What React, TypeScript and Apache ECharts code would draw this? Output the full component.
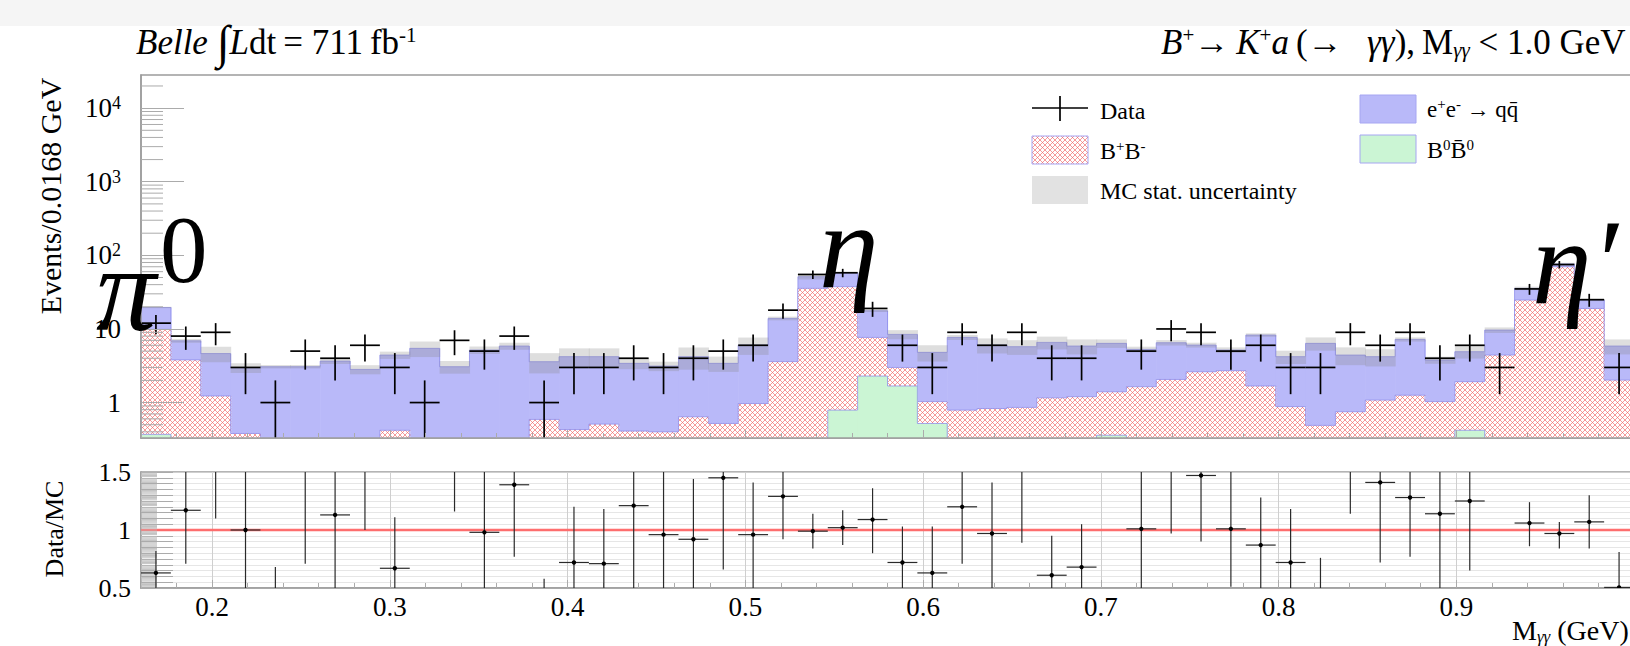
import React, { useEffect, useRef } from 'react';
import * as echarts from 'echarts';

// ---------------- axis ranges ----------------
const X_MIN = 0.16;
const X_MAX = 1.0;
const BIN_WIDTH = 0.0168;
const Y_MIN = 0.33;
const Y_MAX = 28200;
const RATIO_MIN = 0.5;
const RATIO_MAX = 1.5;

// ---------------- data (50 bins of 0.0168 GeV from 0.16 GeV) ----------------
const dataCounts = [12, 8, 9, 3, 1, 5, 4, 6, 3, 1, 7, 5, 8, 1, 3, 3, 4, 3, 4, 5, 6, 18, 55, 58, 19, 6, 3, 9, 6, 9, 4, 4, 0, 5, 10, 9, 5, 6, 3, 3, 9, 6, 9, 4, 6, 3, 35, 75, 25, 3];
const dataErr = [3.5, 2.8, 3.0, 1.7, 1.0, 2.2, 2.0, 2.4, 1.7, 1.0, 2.6, 2.2, 2.8, 1.0, 1.7, 1.7, 2.0, 1.7, 2.0, 2.2, 2.4, 4.2, 7.4, 7.6, 4.4, 2.4, 1.7, 3.0, 2.4, 3.0, 2.0, 2.0, 0, 2.2, 3.2, 3.0, 2.2, 2.4, 1.7, 1.7, 3.0, 2.4, 3.0, 2.0, 2.4, 1.7, 5.9, 8.7, 5.0, 1.7];

// MC components (stacked: B0B0bar at bottom, then B+B-, then qqbar)
const qqbar = [9.7, 3.1, 3.4, 2.6, 3.07, 3.07, 3.66, 2.82, 4.0, 5.45, 3.07, 5.17, 5.86, 3.0, 3.77, 3.69, 3.0, 2.73, 3.56, 2.89, 5.07, 10.3, 15.7, 20.6, 10.0, 5.44, 3.78, 6.89, 5.21, 4.88, 5.41, 4.66, 4.97, 3.64, 4.44, 3.42, 2.46, 6.58, 3.32, 5.88, 3.67, 3.12, 5.95, 2.75, 2.99, 5.24, 10.9, 6.2, 5.7, 3.84];
const bPlusBMinus = [9.5, 3.8, 1.23, 0.38, 0, 0, 0, 0, 0.42, 0, 0, 0, 0, 0.59, 0.43, 0.51, 0.41, 0.40, 0.64, 0.52, 0.97, 3.6, 35.6, 36.7, 5.39, 1.32, 0.51, 0.79, 0.83, 0.86, 1.16, 1.20, 1.04, 1.64, 2.06, 2.62, 2.71, 1.68, 0.88, 0.49, 0.75, 1.08, 1.26, 1.03, 1.5, 4.42, 24.7, 70, 19, 2.02];
const b0B0bar = [
  0.37, 0, 0, 0, 0, 0, 0, 0, 0, 0,
  0, 0, 0, 0, 0, 0, 0, 0, 0, 0,
  0, 0, 0, 0.79, 2.29, 1.68, 0.52, 0, 0, 0,
  0, 0, 0.36, 0, 0, 0, 0, 0, 0, 0,
  0, 0, 0, 0, 0.42, 0, 0, 0, 0, 0,
];
const mcStatErr = [
  0.4, 0.4, 1.1, 0.45, 0.16, 0.16, 0.32, 0.4, 0.5, 1.3,
  0.6, 0.6, 0.65, 1.1, 1.25, 1.25, 0.57, 0.46, 1.4, 0.8,
  1.6, 0.8, 4.3, 1.4, 0.7, 1.2, 1.2, 0.6, 1.4, 1.3,
  1.3, 1.35, 0.84, 0.46, 0.56, 0.46, 0.45, 0.45, 0.86, 1.3,
  1.2, 1.1, 0.47, 0.42, 0.95, 0.84, 1.9, 3.0, 0.8, 1.35,
];

// Data / MC ratio with its error-bar ends
const ratioValue = [
  0.63, 1.17, 1.93, 1.0, 0.33, 1.63, 1.13, 2.13, 0.67, null,
  2.28, 0.98, 1.39, 0.28, 0.72, 0.71, 1.21, 0.96, 0.92, 1.45,
  0.96, 1.29, 0.99, 1.02, 1.09, 0.72, 0.63, 1.2, 0.97, 1.57,
  0.61, 0.68, null, 1.01, 1.54, 1.47, 1.01, 0.87, 0.72, 0.47,
  2.04, 1.41, 1.28, 1.14, 1.25, null, 1.06, 0.97, 1.07, 0.505,
];
const ratioLow = [
  0.4, 0.71, 1.10, 0.4, 0, 0.71, 0.45, 1.0, 0.1, null,
  1.16, 0.45, 0.77, 0, 0.3, 0.3, 0.45, 0.4, 0.45, 0.66,
  0.48, 0.92, 0.84, 0.87, 0.80, 0.45, 0.2, 0.71, 0.45, 0.89,
  0.2, 0.3, null, 0.45, 0.97, 0.9, 0.51, 0.45, 0.3, 0.2,
  1.14, 0.72, 0.77, 0.45, 0.65, null, 0.86, 0.84, 0.84, 0.2,
];
const ratioHigh = [
  0.82, 1.65, 2.8, 1.6, 0.68, 2.6, 1.8, 3.3, 1.11, null,
  3.4, 1.55, 2.0, 0.58, 1.2, 1.18, 1.8, 1.55, 1.44, 2.1,
  1.41, 1.6, 1.14, 1.17, 1.36, 1.03, 1.03, 1.6, 1.41, 2.2,
  0.95, 1.05, null, 1.55, 2.1, 2.0, 1.55, 1.28, 1.18, 0.76,
  2.9, 2.1, 1.8, 1.6, 1.9, null, 1.24, 1.07, 1.3, 0.81,
];

// ---------------- styling ----------------
const SERIF = '"Liberation Serif", "Times New Roman", Times, serif';
const FRAME = '#9c9c9c';
const TICK = '#ababab';
const BLUE = '#b9b9f9';
const GREEN = '#cbf5d4';
const OUTLINE = 'rgba(140,140,235,0.75)';

const binLo = (i: number) => +(X_MIN + i * BIN_WIDTH).toFixed(5);

function makeHatch(): any {
  const s = 5;
  const c = document.createElement('canvas');
  c.width = s;
  c.height = s;
  const ctx = c.getContext('2d') as CanvasRenderingContext2D;
  ctx.fillStyle = '#ffffff';
  ctx.fillRect(0, 0, s, s);
  ctx.strokeStyle = 'rgba(240,100,100,0.72)';
  ctx.lineWidth = 0.9;
  ctx.beginPath();
  ctx.moveTo(0, 0); ctx.lineTo(s, s);
  ctx.moveTo(s, 0); ctx.lineTo(0, s);
  ctx.stroke();
  return { image: c.toDataURL(), repeat: 'repeat', imageWidth: s, imageHeight: s };
}

function histSeries(tops: number[], fill: any, z: number) {
  return {
    type: 'custom',
    xAxisIndex: 0,
    yAxisIndex: 0,
    z,
    clip: true,
    silent: true,
    data: tops.map((t, i) => [binLo(i), binLo(i + 1), t, i > 0 ? tops[i - 1] : 0]),
    encode: { x: [0, 1], y: 2 },
    renderItem: (params: any, api: any) => {
      const x0 = api.value(0);
      const x1 = api.value(1);
      const top = api.value(2);
      const prev = api.value(3);
      const floorP = api.coord([x0, Y_MIN]);
      const floorY = floorP[1] + 4;
      const left = floorP[0];
      const right = api.coord([x1, Y_MIN])[0];
      const topY = top > 0 ? api.coord([x0, top])[1] : floorY;
      const prevY = prev > 0 ? api.coord([x0, prev])[1] : floorY;
      const children: any[] = [];
      if (top > 0) {
        children.push({ type: 'rect', shape: { x: left, y: topY, width: right - left + 0.6, height: floorY - topY }, style: { fill } });
        children.push({ type: 'line', shape: { x1: left, y1: topY, x2: right, y2: topY }, style: { stroke: OUTLINE, lineWidth: 1 } });
      }
      if (Math.abs(prevY - topY) > 0.5) {
        children.push({ type: 'line', shape: { x1: left, y1: prevY, x2: left, y2: topY }, style: { stroke: OUTLINE, lineWidth: 1 } });
      }
      return { type: 'group', children };
    },
  };
}

function buildOption(): any {
  const hatch = makeHatch();
  const mcTotal = qqbar.map((q, i) => q + bPlusBMinus[i] + b0B0bar[i]);
  const bbTop = bPlusBMinus.map((b, i) => b + b0B0bar[i]);

  const logMinor: number[] = [];
  [0.1, 1, 10, 100, 1000, 10000].forEach((d) => {
    for (let k = 2; k <= 9; k++) {
      const v = +(k * d).toPrecision(3);
      if (v > Y_MIN && v < Y_MAX) logMinor.push(v);
    }
  });
  const ratioFine: number[] = [];
  for (let k = 51; k < 150; k++) if (k % 5 !== 0) ratioFine.push(k / 100);

  const supStyle = (fs: number) => ({ fontSize: fs, lineHeight: fs - 1, verticalAlign: 'top', fontFamily: SERIF });
  const subStyle = (fs: number) => ({ fontSize: fs, lineHeight: 6, verticalAlign: 'bottom', fontFamily: SERIF, fontStyle: 'italic' });

  const legendText = (x: number, y: number, text: string, fs = 24) => ({
    type: 'text',
    x,
    y,
    z: 50,
    style: {
      text,
      fontFamily: SERIF,
      fontSize: fs,
      lineHeight: 26,
      fill: '#000',
      align: 'left',
      verticalAlign: 'middle',
      rich: { sup: supStyle(15) },
    },
  });

  const bigText = (x: number, y: number, text: string, fs: number, italic = true) => ({
    type: 'text',
    x,
    y,
    z: 100,
    style: { text, fontFamily: SERIF, fontStyle: italic ? 'italic' : 'normal', fontSize: fs, fill: '#000', align: 'left', verticalAlign: 'middle' },
  });

  const TF = 35;
  const titleRich = {
    i: { fontStyle: 'italic', fontSize: TF, fontFamily: SERIF, lineHeight: 36 },
    int: { fontSize: 47, fontFamily: SERIF, lineHeight: 36 },
    sup: supStyle(21),
    sub: subStyle(21),
  };
  const titleText = (x: number, text: string) => ({
    type: 'text', x, y: 42, z: 50,
    style: { text, fontFamily: SERIF, fontSize: TF, lineHeight: 36, fill: '#000', align: 'left', verticalAlign: 'middle', rich: titleRich },
  });

  return {
    animation: false,
    backgroundColor: '#ffffff',
    textStyle: { fontFamily: SERIF },
    grid: [
      { left: 141, top: 75, width: 1493, height: 363, show: true, borderColor: FRAME, borderWidth: 1.5, backgroundColor: 'transparent' },
      { left: 141, top: 472, width: 1493, height: 116, show: true, borderColor: FRAME, borderWidth: 1.5, backgroundColor: 'transparent' },
    ],
    xAxis: [
      {
        type: 'value', gridIndex: 0, min: X_MIN, max: X_MAX, splitNumber: 8, z: 10,
        axisLine: { show: true, lineStyle: { color: FRAME, width: 1.5 } },
        axisTick: { show: true, inside: true, length: 8, lineStyle: { color: TICK } },
        minorTick: { show: true, splitNumber: 5, length: 5, lineStyle: { color: TICK } },
        axisLabel: { show: false },
        splitLine: { show: false },
      },
      {
        type: 'value', gridIndex: 1, min: X_MIN, max: X_MAX, splitNumber: 8,
        axisLine: { show: true, lineStyle: { color: FRAME, width: 1.5 } },
        axisTick: { show: true, inside: true, length: 8, lineStyle: { color: TICK } },
        minorTick: { show: true, splitNumber: 5, length: 5, lineStyle: { color: TICK } },
        axisLabel: { show: true, color: '#000', fontSize: 27, fontFamily: SERIF, margin: 5, showMinLabel: false, showMaxLabel: false },
        splitLine: { show: true, lineStyle: { color: '#cfcfcf', width: 1 } },
      },
    ],
    yAxis: [
      {
        type: 'log', logBase: 10, gridIndex: 0, min: Y_MIN, max: Y_MAX, z: 10,
        axisLine: { show: true, lineStyle: { color: FRAME, width: 1.5 } },
        axisTick: { show: true, inside: true, length: 43, lineStyle: { color: TICK } },
        axisLabel: {
          show: true, color: '#000', fontSize: 27, fontFamily: SERIF, margin: 20, lineHeight: 28,
          showMinLabel: false, showMaxLabel: false,
          formatter: (v: number) => {
            const e = Math.round(Math.log10(v));
            if (e === 0) return '1';
            if (e === 1) return '10';
            return '10{sup|' + e + '}';
          },
          rich: { sup: supStyle(18) },
        },
        splitLine: { show: false },
      },
      {
        type: 'value', gridIndex: 1, min: RATIO_MIN, max: RATIO_MAX, interval: 0.5,
        axisLine: { show: true, lineStyle: { color: FRAME, width: 1.5 } },
        axisTick: { show: true, inside: true, length: 32, lineStyle: { color: TICK } },
        minorTick: { show: true, splitNumber: 10, length: 32, lineStyle: { color: TICK } },
        axisLabel: { show: true, color: '#000', fontSize: 26, fontFamily: SERIF, margin: 10, formatter: (v: number) => String(v) },
        splitLine: { show: true, lineStyle: { color: '#cfcfcf' } },
        minorSplitLine: { show: true, lineStyle: { color: '#e6e6e6' } },
      },
    ],
    series: [
      histSeries(mcTotal, BLUE, 2),
      histSeries(bbTop, hatch, 3),
      histSeries(b0B0bar, GREEN, 4),
      {
        type: 'custom', name: 'MC stat. uncertainty', xAxisIndex: 0, yAxisIndex: 0, z: 5, clip: true, silent: true,
        data: mcTotal.map((t, i) => [binLo(i), binLo(i + 1), t, mcStatErr[i]]),
        encode: { x: [0, 1], y: 2 },
        renderItem: (params: any, api: any) => {
          const x0 = api.value(0), x1 = api.value(1), t = api.value(2), e = api.value(3);
          const pHi = api.coord([x0, t + e]);
          const pLo = api.coord([x1, Math.max(t - e, Y_MIN * 0.5)]);
          return { type: 'rect', shape: { x: pHi[0], y: pHi[1], width: pLo[0] - pHi[0] + 0.6, height: pLo[1] - pHi[1] }, style: { fill: 'rgba(135,135,135,0.28)' } };
        },
      },
      {
        type: 'custom', name: 'Data', xAxisIndex: 0, yAxisIndex: 0, z: 8, clip: true, silent: true,
        data: dataCounts.map((n, i) => [binLo(i), binLo(i + 1), n, dataErr[i]]),
        encode: { x: [0, 1], y: 2 },
        renderItem: (params: any, api: any) => {
          const x0 = api.value(0), x1 = api.value(1), n = api.value(2), e = api.value(3);
          if (!(n > 0)) return null;
          const xc = (x0 + x1) / 2;
          const pL = api.coord([x0, n]);
          const pR = api.coord([x1, n]);
          const pHi = api.coord([xc, n + e]);
          const loY = n - e > 0 ? api.coord([xc, n - e])[1] : api.coord([xc, Y_MIN])[1] + 6;
          const st = { stroke: '#000', lineWidth: 1.7 };
          return {
            type: 'group',
            children: [
              { type: 'line', shape: { x1: pL[0], y1: pL[1], x2: pR[0], y2: pR[1] }, style: st },
              { type: 'line', shape: { x1: pHi[0], y1: pHi[1], x2: pHi[0], y2: loY }, style: st },
            ],
          };
        },
      },
      {
        type: 'custom', xAxisIndex: 0, yAxisIndex: 0, z: 11, clip: true, silent: true,
        data: logMinor.map((v) => [X_MIN, v]),
        encode: { x: 0, y: 1 },
        renderItem: (params: any, api: any) => {
          const p = api.coord([api.value(0), api.value(1)]);
          return { type: 'line', shape: { x1: p[0], y1: p[1], x2: p[0] + 22, y2: p[1] }, style: { stroke: TICK, lineWidth: 1 } };
        },
      },
      {
        type: 'line', xAxisIndex: 1, yAxisIndex: 1, z: 3, silent: true, symbol: 'none',
        data: [[X_MIN, 1], [X_MAX, 1]],
        lineStyle: { color: '#ff6767', width: 2.5, opacity: 0.95 },
      },
      {
        type: 'custom', xAxisIndex: 1, yAxisIndex: 1, z: 4, clip: true, silent: true,
        data: ratioFine.map((v) => [X_MIN, v]),
        encode: { x: 0, y: 1 },
        renderItem: (params: any, api: any) => {
          const p = api.coord([api.value(0), api.value(1)]);
          return { type: 'line', shape: { x1: p[0], y1: p[1], x2: p[0] + 16, y2: p[1] }, style: { stroke: '#c2c2c2', lineWidth: 1 } };
        },
      },
      {
        type: 'custom', name: 'Data/MC', xAxisIndex: 1, yAxisIndex: 1, z: 6, clip: true, silent: true,
        data: ratioValue.map((r, i) => [binLo(i), binLo(i + 1), r == null ? NaN : r, ratioLow[i] == null ? NaN : ratioLow[i], ratioHigh[i] == null ? NaN : ratioHigh[i]]),
        encode: { x: [0, 1], y: 2 },
        renderItem: (params: any, api: any) => {
          const x0 = api.value(0), x1 = api.value(1), r = api.value(2), lo = api.value(3), hi = api.value(4);
          if (isNaN(r)) return null;
          const xc = (x0 + x1) / 2;
          const pL = api.coord([x0, r]);
          const pR = api.coord([x1, r]);
          const pC = api.coord([xc, r]);
          const pHi = api.coord([xc, hi]);
          const pLo = api.coord([xc, lo]);
          const st = { stroke: '#2a2a2a', lineWidth: 1.2 };
          return {
            type: 'group',
            children: [
              { type: 'line', shape: { x1: pL[0], y1: pL[1], x2: pR[0], y2: pR[1] }, style: st },
              { type: 'line', shape: { x1: pHi[0], y1: pHi[1], x2: pLo[0], y2: pLo[1] }, style: st },
              { type: 'circle', shape: { cx: pC[0], cy: pC[1], r: 2.2 }, style: { fill: '#000' } },
            ],
          };
        },
      },
    ],
    graphic: [
      { type: 'rect', z: 0, shape: { x: 0, y: 0, width: 1700, height: 26 }, style: { fill: '#f5f5f5' } },
      // titles
      titleText(136, '{i|Belle} {int|∫}{i|L}dt\u2009= 711\u2009fb{sup|-1}'),
      titleText(1161, '{i|B}{sup|+}→\u2009{i|K}{sup|+}{i|a}\u2009(→\u2002\u2009{i|γγ}),\u2009M{sub|γγ} < 1.0 GeV'),
      // axis titles
      {
        type: 'text', x: 50, y: 196, rotation: Math.PI / 2, z: 50,
        style: { text: 'Events/0.0168 GeV', fontFamily: SERIF, fontSize: 30, fill: '#000', align: 'center', verticalAlign: 'middle' },
      },
      {
        type: 'text', x: 54, y: 529, rotation: Math.PI / 2, z: 50,
        style: { text: 'Data/MC', fontFamily: SERIF, fontSize: 26, fill: '#000', align: 'center', verticalAlign: 'middle' },
      },
      {
        type: 'text', x: 1512, y: 630, z: 50,
        style: { text: 'M{sub|γγ} (GeV)', fontFamily: SERIF, fontSize: 28, lineHeight: 30, fill: '#000', align: 'left', verticalAlign: 'middle', rich: { sub: subStyle(17) } },
      },
      // legend
      { type: 'line', z: 50, shape: { x1: 1032, y1: 108, x2: 1088, y2: 108 }, style: { stroke: '#000', lineWidth: 1.7 } },
      { type: 'line', z: 50, shape: { x1: 1060, y1: 96, x2: 1060, y2: 121 }, style: { stroke: '#000', lineWidth: 1.7 } },
      legendText(1100, 111, 'Data'),
      { type: 'rect', z: 50, shape: { x: 1032, y: 136, width: 56, height: 28 }, style: { fill: hatch, stroke: '#a6a6f2', lineWidth: 1 } },
      legendText(1100, 151, 'B{sup|+}B{sup|-}'),
      { type: 'rect', z: 50, shape: { x: 1032, y: 176, width: 56, height: 28 }, style: { fill: '#e2e2e2' } },
      legendText(1100, 191, 'MC stat. uncertainty'),
      { type: 'rect', z: 50, shape: { x: 1360, y: 95, width: 56, height: 28 }, style: { fill: BLUE, stroke: '#a6a6f2', lineWidth: 1 } },
      legendText(1427, 109, 'e{sup|+}e{sup|-} → qq\u0304', 23),
      { type: 'rect', z: 50, shape: { x: 1360, y: 135, width: 56, height: 28 }, style: { fill: GREEN, stroke: '#a6a6f2', lineWidth: 1 } },
      legendText(1427, 150, 'B{sup|0}B\u0304{sup|0}'),
      // resonance labels
      bigText(96, 289, 'π', 120),
      bigText(160, 250, '0', 95, false),
      bigText(819, 246, 'η', 120),
      bigText(1532, 262, 'η′', 120),
    ],
  };
}

export default function App() {
  const ref = useRef<HTMLDivElement>(null);
  useEffect(() => {
    const chart = echarts.init(ref.current as HTMLDivElement, null, { renderer: 'svg' });
    chart.setOption(buildOption());
    return () => chart.dispose();
  }, []);
  return (
    <div
      ref={ref}
      style={{ position: 'fixed', left: 0, top: 0, width: 1700, height: 646, background: '#ffffff' }}
    />
  );
}
